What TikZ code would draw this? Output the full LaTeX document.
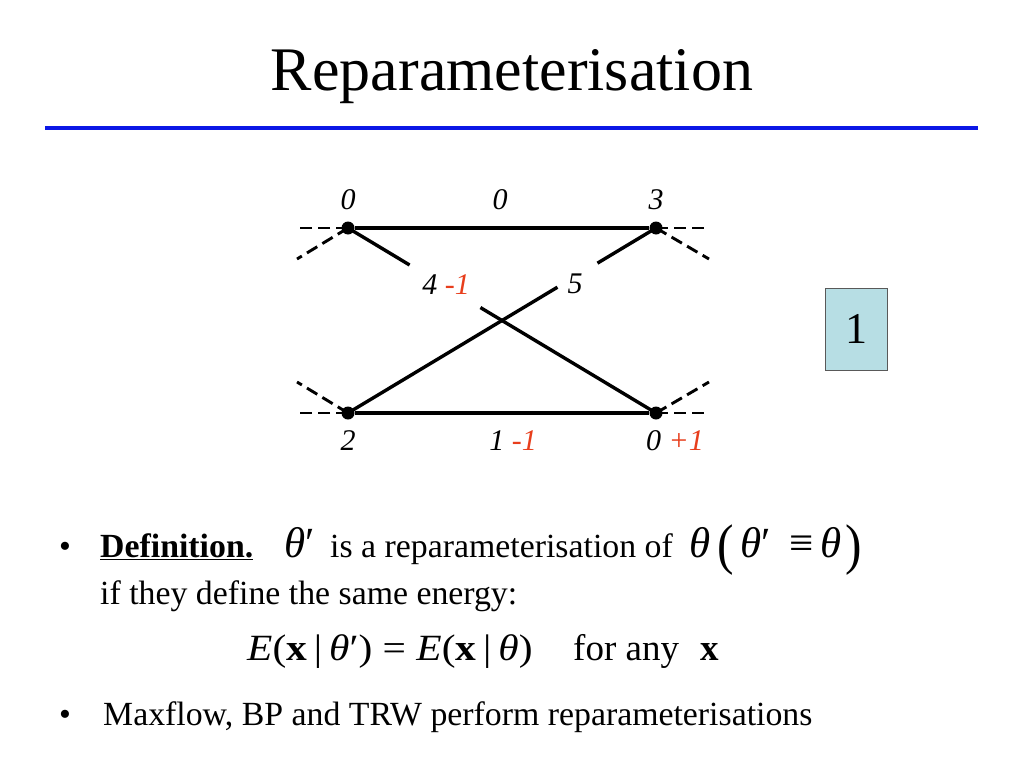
\documentclass[tikz,border=0pt]{standalone}
\usepackage{fontspec}
\usepackage{graphicx}
\setmainfont{Liberation Serif}
\usetikzlibrary{calc}
\definecolor{redlab}{RGB}{232,62,28}
\definecolor{boxfill}{RGB}{183,222,228}
\definecolor{rulecol}{RGB}{12,24,230}
\newcommand{\bigp}[1]{\raisebox{-6pt}{\scalebox{1.15}[1.3]{#1}}}
\begin{document}
\begin{tikzpicture}[x=1pt,y=-1pt,
  dot/.style={circle,fill=black,inner sep=0pt,minimum size=13pt},
  edge/.style={line width=3.1pt},
  diag/.style={line width=3.4pt},
  stub/.style={line width=2.9pt,dash pattern=on 12pt off 6pt},
  lab/.style={anchor=base,inner sep=0pt,font=\fontsize{30}{32}\selectfont\itshape},
  txt/.style={anchor=base west,inner sep=0pt,font=\fontsize{33.8}{36}\selectfont},
  mth/.style={anchor=base west,inner sep=0pt,font=\fontsize{43}{45}\selectfont}]
\useasboundingbox[fill=white] (0,0) rectangle (1024,768);

% title and rule
\node[anchor=base,inner sep=0pt,font=\fontsize{62}{66}\selectfont] (title) at (512,90) {Reparameterisation};
\coordinate (r1) at (45,128);
\coordinate (r2) at (978,128);
\draw[rulecol,line width=4pt] (r1) -- (r2);

% graph nodes
\node[dot] (TL) at (348,228) {};
\node[dot] (TR) at (656,228) {};
\node[dot] (BL) at (348,413) {};
\node[dot] (BR) at (656,413) {};

% dashed stubs
\coordinate (tlh) at (300,228);
\coordinate (tld) at (297,259);
\coordinate (trh) at (706,228);
\coordinate (trd) at (709,259);
\coordinate (blh) at (300,413);
\coordinate (bld) at (297,382);
\coordinate (brh) at (706,413);
\coordinate (brd) at (709,382);
\draw[stub] (TL.center) -- (tlh);
\draw[stub] (TL.center) -- (tld);
\draw[stub] (TR.center) -- (trh);
\draw[stub] (TR.center) -- (trd);
\draw[stub] (BL.center) -- (blh);
\draw[stub] (BL.center) -- (bld);
\draw[stub] (BR.center) -- (brh);
\draw[stub] (BR.center) -- (brd);

% edges
\draw[edge] (TL) -- (TR);
\draw[edge] (BL) -- (BR);
\draw[diag] (TL.center) -- ($(TL.center)!0.20!(BR.center)$);
\draw[diag] ($(TL.center)!0.43!(BR.center)$) -- (BR.center);
\draw[diag] (TR.center) -- ($(TR.center)!0.19!(BL.center)$);
\draw[diag] ($(TR.center)!0.32!(BL.center)$) -- (BL.center);

% labels
\node[lab] (lTL) at (348,209) {0};
\node[lab] (lT) at (500,209) {0};
\node[lab] (lTR) at (656,209) {3};
\node[lab] (lBL) at (348,450) {2};
\node[lab] (lB) at (513,450) {1 \textcolor{redlab}{-1}};
\node[lab] (lBR) at (675,450) {0 \textcolor{redlab}{+1}};
\node[lab] (lX1) at (446,294) {4 \textcolor{redlab}{-1}};
\node[lab] (lX2) at (575,293) {5};

% box
\node[draw=black!65,line width=1pt,fill=boxfill,minimum width=62pt,minimum height=82pt,inner sep=0pt,
  font=\fontsize{44}{44}\selectfont] (box) at (856,329) {1};

% text
\node[txt] (b1) at (59,557) {•};
\node[txt,font=\fontsize{33.8}{36}\selectfont\bfseries] (def) at (100,557) {\underline{Definition.}};
\node[mth] (th1) at (284,557) {\textit{θ}′};
\node[txt] (t1) at (330,557) {is a reparameterisation of};
\node[mth] (th2) at (689,557) {\textit{θ}};
\node[mth] (pl) at (717,557) {\bigp{(}};
\node[mth] (th3) at (740,557) {\textit{θ}′};
\node[mth] (eqv) at (789,557) {≡};
\node[mth] (th4) at (820,557) {\textit{θ}};
\node[mth] (pr) at (845,557) {\bigp{)}};
\node[txt] (t2) at (100,604) {if they define the same energy:};
\node[mth,font=\fontsize{37}{40}\selectfont] (eq) at (247,660) {\scalebox{1.12}[1]{\textit{E}(\textbf{x}\,|\,\textit{θ}′) = \textit{E}(\textbf{x}\,|\,\textit{θ})}};
\node[mth,font=\fontsize{37}{40}\selectfont] (fa) at (573,660) {for any};
\node[mth,font=\fontsize{37}{40}\selectfont] (fx) at (700,660) {\textbf{x}};
\node[txt] (b2) at (59,725) {•};
\node[txt] (t3) at (103,725) {Maxflow, BP and TRW perform reparameterisations};
\end{tikzpicture}
\end{document}
